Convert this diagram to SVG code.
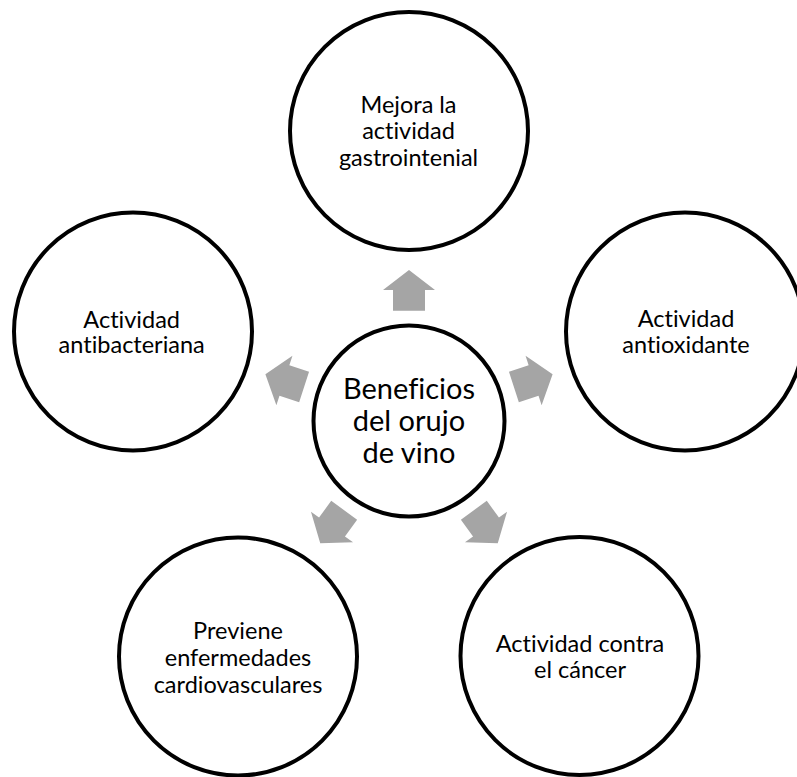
<svg xmlns="http://www.w3.org/2000/svg" xmlns:xlink="http://www.w3.org/1999/xlink" width="797" height="777" viewBox="0 0 797 777">
  <style>
    .node circle { fill: #ffffff; stroke: #000000; stroke-width: 4; }
    .lbl { font-family: Lato, "Liberation Sans", sans-serif; font-size: 23.5px; fill: #000000; text-anchor: middle; font-variant-ligatures: none; }
    .ctr { font-family: Lato, "Liberation Sans", sans-serif; font-size: 29px; fill: #000000; text-anchor: middle; font-variant-ligatures: none; }
    .arrow { fill: #A5A5A5; stroke: none; }
  </style>
  <defs>
    <path id="arr" class="arrow" d="M409,270 L435,290 L425,290 L425,310.7 L393,310.7 L393,290 L383,290 Z"/>
  </defs>
  <rect width="797" height="777" fill="#ffffff"/>
  <g id="connectors">
    <use xlink:href="#arr" href="#arr"/>
    <use xlink:href="#arr" href="#arr" transform="rotate(72 409 421)"/>
    <use xlink:href="#arr" href="#arr" transform="rotate(144 409 421)"/>
    <use xlink:href="#arr" href="#arr" transform="rotate(216 409 421)"/>
    <use xlink:href="#arr" href="#arr" transform="rotate(288 409 421)"/>
  </g>
  <g id="center" class="node">
    <circle cx="409" cy="421" r="95.5"/>
    <text class="ctr" x="409" y="399">Beneficios</text>
    <text class="ctr" x="409" y="431">del orujo</text>
    <text class="ctr" x="409" y="463">de vino</text>
  </g>
  <g id="top" class="node">
    <circle cx="409" cy="131" r="119"/>
    <text class="lbl" x="408.5" y="112.5">Mejora la</text>
    <text class="lbl" x="408.5" y="139">actividad</text>
    <text class="lbl" x="408.5" y="165.7">gastrointenial</text>
  </g>
  <g id="right" class="node">
    <circle cx="685" cy="331.5" r="119"/>
    <text class="lbl" x="686" y="326.7">Actividad</text>
    <text class="lbl" x="686" y="353.3">antioxidante</text>
  </g>
  <g id="bottom-right" class="node">
    <circle cx="579.5" cy="656" r="119"/>
    <text class="lbl" x="580" y="651.7">Actividad contra</text>
    <text class="lbl" x="580" y="678.3">el cáncer</text>
  </g>
  <g id="bottom-left" class="node">
    <circle cx="238" cy="656.5" r="119"/>
    <text class="lbl" x="238" y="639.3">Previene</text>
    <text class="lbl" x="238" y="666">enfermedades</text>
    <text class="lbl" x="238" y="692.7">cardiovasculares</text>
  </g>
  <g id="left" class="node">
    <circle cx="133" cy="331.5" r="119"/>
    <text class="lbl" x="131.7" y="327.7">Actividad</text>
    <text class="lbl" x="131.7" y="353.3">antibacteriana</text>
  </g>
</svg>
